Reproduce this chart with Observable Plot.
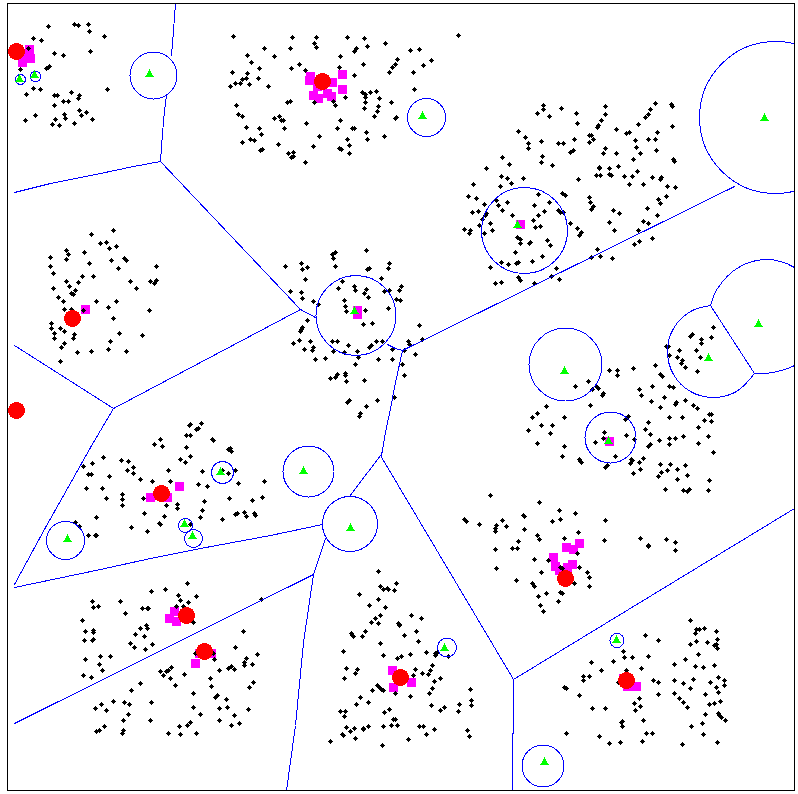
<!DOCTYPE html>
<html>
<head>
<meta charset="utf-8">
<style>html,body{margin:0;padding:0;background:#fff}svg{display:block}</style>
<script src="https://cdn.jsdelivr.net/npm/d3@7"></script>
<script src="https://cdn.jsdelivr.net/npm/@observablehq/plot@0.6"></script>
</head>
<body>
<div id="chart"></div>
<script>
const clusterNW = [[48,26],[74,24],[78,25],[88,24],[89,31],[104,36],[33,38],[41,40],[28,48],[54,53],[63,55],[90,51],[49,66],[48,67],[46,68],[20,69],[33,88],[40,89],[26,94],[71,92],[107,89],[54,95],[57,95],[79,95],[78,98],[63,101],[68,101],[54,105],[79,110],[86,112],[81,115],[64,114],[65,118],[35,115],[25,120],[55,119],[92,119],[52,124],[59,125],[74,123]];
const clusterN = [[233,36],[264,48],[247,55],[251,62],[259,68],[232,72],[247,73],[258,78],[242,79],[246,78],[235,83],[240,83],[230,86],[249,84],[268,86],[236,105],[238,114],[242,116],[246,127],[259,128],[261,134],[250,139],[254,140],[242,142],[260,150],[262,149],
[292,37],[316,37],[347,37],[364,38],[458,35],[314,43],[385,43],[316,47],[367,46],[290,48],[356,48],[354,51],[410,50],[419,49],[274,56],[340,56],[397,59],[431,60],[299,64],[363,64],[395,64],[423,65],[291,68],[339,67],[392,67],[305,70],[389,72],[413,72],[354,75],[414,89],[376,91],[362,92],[370,92],[365,94],[365,97],[379,98],[345,97],[287,102],[290,101],[314,102],[333,101],[365,102],[391,102],[335,105],[378,106],[364,108],[377,111],[374,116],[274,118],[279,116],[281,120],[283,120],[340,120],[395,118],[396,117],[306,123],[284,128],[337,128],[352,128],[354,128],[366,132],[319,136],[384,136],[347,139],[367,139],[278,144],[313,146],[349,145],[339,148],[341,149],[288,153],[293,152],[349,153],[293,156],[291,157],[305,162]];
const clusterW = [[113,230],[91,234],[100,243],[106,242],[116,246],[109,248],[66,250],[84,252],[68,254],[50,257],[66,259],[124,258],[126,260],[111,260],[89,263],[50,266],[118,268],[156,266],[53,273],[82,276],[93,276],[66,281],[78,282],[130,281],[150,281],[156,280],[154,283],[69,286],[53,288],[75,290],[136,288],[71,293],[73,294],[58,297],[63,301],[96,301],[116,301],[108,307],[64,309],[71,309],[83,310],[149,310],[113,318],[51,323],[51,328],[60,328],[64,331],[54,333],[74,334],[119,333],[142,335],[54,338],[73,338],[110,341],[64,343],[61,347],[108,349],[77,352],[91,351],[126,351],[60,361]];
const clusterSW = [[201,423],[190,424],[189,425],[198,428],[196,429],[186,435],[190,435],[160,439],[212,439],[213,440],[154,444],[162,446],[186,447],[228,449],[230,448],[231,451],[190,456],[103,457],[121,460],[128,461],[180,459],[185,462],[92,463],[83,466],[133,467],[127,470],[168,470],[202,471],[222,470],[235,470],[88,474],[91,474],[109,476],[133,473],[228,473],[140,479],[152,481],[170,481],[198,484],[207,486],[238,483],[264,481],[86,488],[102,488],[122,494],[106,498],[143,498],[122,499],[229,498],[262,497],[252,500],[204,501],[122,505],[166,505],[177,504],[177,508],[202,510],[144,513],[237,513],[235,514],[244,512],[246,516],[254,513],[255,515],[164,516],[200,517],[222,519],[96,517],[75,522],[79,526],[159,523],[160,524],[190,524],[131,527],[147,531],[88,535],[95,535],[96,535]];
const clusterS1 = [[187,583],[165,589],[151,591],[178,595],[196,596],[92,601],[120,601],[180,600],[188,602],[93,607],[98,606],[142,608],[147,608],[148,608],[176,606],[183,606],[125,613],[82,620],[193,622],[146,625],[140,628],[147,628],[85,631],[93,630],[93,632],[135,634],[144,636],[84,640],[92,640],[93,639],[130,643],[152,644],[134,647],[145,649],[261,599],
[100,656],[110,656],[85,659],[99,664],[102,670],[83,675],[91,677]];
const clusterS2 = [[243,631],[235,647],[257,654],[195,653],[213,653],[246,658],[214,659],[244,662],[244,665],[252,664],[171,667],[168,670],[166,671],[160,671],[163,675],[184,674],[170,678],[219,670],[228,668],[231,666],[234,669],[210,678],[253,682],[140,683],[175,685],[211,686],[249,687],[131,690],[193,693],[217,695],[215,697],[226,699],[113,701],[124,702],[129,704],[101,704],[151,702],[95,708],[106,710],[193,707],[219,708],[227,707],[248,709],[128,714],[200,714],[234,715],[123,720],[150,720],[219,720],[190,722],[187,725],[179,726],[231,725],[239,723],[104,726],[96,731],[99,730],[123,730],[122,733],[168,733],[180,734],[196,733]];
const clusterNE = [[537,113],[518,131],[525,137],[528,143],[528,148],[502,157],[509,164],[486,168],[501,176],[507,178],[523,178],[511,183],[473,184],[500,186],[538,194],[468,196],[476,198],[496,200],[507,202],[484,204],[498,205],[534,205],[502,210],[472,212],[478,211],[486,213],[485,215],[512,215],[538,215],[533,220],[482,219],[490,223],[479,225],[535,227],[464,229],[470,230],[469,233],[492,230],[484,233],[517,237],[520,239],[520,243],[530,242],[529,243],[515,252],[501,262],[508,264],[516,263],[518,262],[532,261],[490,267],[495,283],[501,282],[518,277],[520,280],[534,283],
[543,105],[543,109],[561,108],[549,116],[576,113],[605,106],[605,114],[655,103],[671,104],[672,106],[650,109],[648,114],[645,117],[601,120],[577,123],[638,124],[598,125],[597,127],[672,126],[616,129],[629,132],[626,133],[657,132],[589,135],[591,135],[574,139],[593,139],[635,140],[648,139],[655,139],[541,141],[558,143],[563,143],[589,142],[636,147],[605,148],[573,150],[570,152],[656,150],[603,153],[616,153],[640,153],[542,156],[633,159],[673,159],[674,161],[541,162],[552,165],[618,166],[599,167],[599,168],[609,168],[637,171],[596,175],[600,175],[609,174],[611,175],[624,176],[632,176],[652,177],[661,177],[660,179],[578,179],[629,184],[643,184],[667,186],[675,187],[562,193],[565,195],[589,197],[666,196],[658,199],[590,202],[660,203],[549,202],[593,206],[591,209],[647,208],[613,210],[558,210],[560,212],[563,212],[544,211],[619,213],[657,215],[643,221],[609,222],[648,223],[570,223],[540,226],[577,228],[614,230],[638,230],[581,232],[579,235],[652,238],[547,240],[639,241],[634,244],[550,245],[597,249],[542,256],[591,257],[600,256],[612,258],[556,268],[551,276],[559,279]];
const clusterC = [[366,250],[335,252],[332,254],[333,258],[301,263],[389,263],[285,266],[307,267],[302,269],[335,266],[369,268],[367,269],[388,268],[305,279],[381,278],[342,281],[354,286],[338,288],[355,290],[366,289],[401,286],[389,290],[399,290],[384,291],[290,291],[301,292],[364,293],[368,297],[302,298],[396,299],[400,300],[344,300],[313,301],[318,304],[345,306],[388,308],[365,310],[346,311],[307,320],[363,324],[372,323],[419,325],[302,327],[301,329],[300,331],[422,339],[299,340],[293,343],[310,341],[332,341],[337,341],[376,341],[382,341],[408,341],[409,344],[348,345],[371,345],[369,347],[313,347],[304,349],[312,350],[333,351],[344,352],[357,351],[392,349],[404,350],[415,354],[358,357],[315,359],[325,358],[378,359],[392,359],[355,364],[402,364],[404,375],[345,373],[345,375],[337,374],[335,377],[330,378],[364,380],[346,381],[394,397],[377,400],[349,400],[347,402],[366,406],[360,413],[359,416]];
const clusterE = [[532,417],[537,413],[528,430],[537,443],[490,495],[539,502],[523,515],[524,516],[464,519],[466,521],[479,524],[502,520],[496,525],[506,526],[495,528],[495,531],[524,529],
[713,327],[692,334],[690,336],[711,337],[701,339],[701,343],[666,346],[668,346],[679,350],[696,350],[669,355],[677,357],[700,357],[682,360],[681,363],[685,367],[697,371],[655,365],[633,368],[609,370],[617,370],[617,375],[660,374],[662,376],[588,381],[575,386],[596,386],[598,388],[592,389],[652,386],[669,386],[673,387],[639,389],[603,393],[602,395],[641,395],[664,397],[651,401],[685,400],[676,402],[675,404],[546,406],[590,405],[660,407],[693,405],[697,408],[709,414],[711,414],[564,417],[628,416],[625,419],[669,417],[682,417],[704,420],[711,421],[648,422],[541,425],[552,425],[698,427],[645,429],[550,433],[604,432],[650,434],[626,435],[683,436],[708,436],[603,438],[634,439],[669,438],[675,438],[659,440],[595,442],[669,444],[698,443],[650,444],[648,446],[564,446],[713,452],[562,456],[615,456],[643,458],[579,459],[580,461],[581,462],[631,459],[632,460],[630,463],[639,462],[607,465],[606,466],[605,467],[660,464],[670,464],[685,465],[640,469],[677,469],[661,472],[667,470],[633,473],[687,475],[658,476],[677,479],[709,480],[665,489],[683,490],[687,491],[689,489],[708,490],[559,510],[575,513],[552,521],[560,519],[605,520],[578,532]];
const clusterSC = [[537,535],[518,541],[495,549],[512,548],[517,548],[534,559],[496,568],[516,580],[532,583],[534,586],[538,596],[540,605],[539,539],[564,538],[604,540],[640,538],[666,539],[675,542],[648,545],[648,546],[675,550],[577,553],[548,560],[579,567],[560,567],[562,568],[541,572],[587,572],[589,577],[574,583],[589,586],[560,592],[562,593],[546,593],[558,601],[543,611]];
const clusterS3 = [[378,571],[396,583],[380,586],[383,589],[387,588],[388,589],[394,590],[359,594],[378,599],[369,605],[385,607],[380,615],[411,615],[375,618],[421,618],[371,622],[378,623],[398,623],[399,624],[399,625],[365,631],[416,631],[351,633],[352,635],[353,636],[362,636],[404,635],[418,641],[380,643],[343,651],[426,652],[437,652],[435,653],[435,655],[410,654],[383,655],[401,656],[397,658],[448,656],[432,665],[346,668],[357,669],[355,673],[430,670],[415,669],[428,674],[422,673],[413,675],[344,678],[440,678],[434,681],[377,685],[379,687],[381,689],[383,690],[372,690],[432,688],[470,689],[429,693],[395,693],[410,696],[360,697],[471,700],[368,702],[356,704],[431,705],[459,704],[471,705],[444,707],[440,710],[458,711],[389,709],[384,712],[340,711],[345,711],[344,716],[393,719],[395,719],[391,725],[397,725],[383,726],[368,726],[419,726],[423,726],[346,727],[354,728],[363,728],[363,729],[434,729],[467,730],[350,731],[342,734],[343,735],[426,734],[469,736],[355,738],[408,739],[330,741],[382,745]];
const clusterSE = [[690,620],[696,629],[699,629],[704,628],[695,633],[716,631],[645,635],[717,639],[658,640],[696,641],[707,642],[690,644],[716,644],[714,645],[717,648],[623,651],[698,654],[624,657],[632,657],[648,656],[685,659],[591,662],[613,661],[674,664],[714,665],[695,666],[703,667],[641,668],[601,670],[626,670],[589,676],[583,676],[583,680],[718,677],[653,680],[658,682],[674,680],[693,679],[710,682],[724,680],[724,685],[683,683],[618,682],[564,687],[566,688],[690,688],[716,687],[718,692],[579,695],[658,694],[674,693],[705,694],[679,698],[639,698],[683,702],[720,701],[634,703],[709,704],[714,703],[687,707],[640,706],[592,708],[605,708],[635,710],[705,714],[718,713],[719,715],[721,717],[725,720],[643,720],[622,721],[621,722],[702,723],[622,726],[691,726],[566,733],[646,733],[652,733],[703,734],[599,736],[642,741],[609,743],[620,742],[717,742],[682,744]];
const blackPoints = [...clusterNW,...clusterN,...clusterW,...clusterSW,...clusterS1,...clusterS2,...clusterNE,...clusterC,...clusterE,...clusterSC,...clusterS3,...clusterSE];

const magentaSquares = [[29,49],[30,58],[22,62],[26,58],[310,76],[309,80],[332,82],[342,74],[342,89],[313,95],[318,98],[327,93],[331,96],[317,86],[520,224],[85,309],[179,486],[150,497],[167,497],[357,310],[357,314],[609,441],[174,611],[169,618],[176,621],[195,663],[199,653],[211,653],[392,670],[411,682],[393,687],[579,543],[566,547],[573,549],[553,557],[555,566],[572,564],[567,567],[559,570],[636,686],[627,686],[623,678]];
const redCircles = [[16,51],[322,81],[72,318],[16,410],[161,493],[186,615],[204,651],[400,677],[565,578],[626,680]];
const greenTriangles = [[149,74],[19,79],[34,75],[422,116],[517,225],[764,118],[220,472],[184,524],[354,311],[303,471],[350,528],[564,371],[708,358],[758,324],[608,441],[67,539],[192,536],[444,648],[616,640],[544,762]];
const rings = [[153,75,23.5],[20,79,5],[35,76,5.3],[426,117,19],[524,230,43],[775,117,76],[355.5,315,40],[349.5,523.5,27.5],[308,471,25.5],[565,364,36.5],[610,437,25.5],[222,472,11],[185,525,7],[193,538,9],[65,540,19],[446.5,647,9.5],[616.5,640,7],[542.5,765.5,21]];
const edges = [
  [[175,3],[173,30],[171,55]],
  [[166,95],[164,110],[162,133],[160,161]],
  [[14,192],[50,183],[100,173],[133,166],[160,161]],
  [[160,161],[300,309]],
  [[300,309],[315,317]],
  [[300,309],[113,408]],
  [[14,345],[113,408]],
  [[113,408],[90,447],[67,488],[45,527],[14,584]],
  [[14,587],[100,569],[150,558],[200,548],[270,535],[322,524]],
  [[14,723],[313,574]],
  [[325,538],[313,574],[303,642],[295,725],[286,790]],
  [[349,496],[380,455]],
  [[381,455],[385,432],[390,408],[395,382],[402,350]],
  [[402,350],[734,186]],
  [[387,344],[395,348],[402,350]],
  [[380,455],[513,679]],
  [[513,679],[512,790]],
  [[513,679],[794,508]],
  [[710,305],[754,373]]
];
const arcs = [
  [[710,305],[690,311],[673,328],[667,351],[673,374],[690,391],[713,397],[736,391],[754,373]],
  [[710,305],[717,288],[738,267],[766,259],[794,267],[815,288],[823,316],[815,345],[794,365],[766,373],[754,373]]
];

const toRows = list => list.flatMap((pts, i) => pts.map(p => ({x: p[0], y: p[1], id: i})));
const px = d => d[0], py = d => d[1];
const crisp = {shapeRendering: "crispEdges"};

const chart = Plot.plot({
  width: 798, height: 794,
  marginLeft: 7, marginRight: 4, marginTop: 3, marginBottom: 4,
  x: {domain: [7, 794], axis: null},
  y: {domain: [3, 790], reverse: true, axis: null},
  r: {type: "identity"},
  style: {background: "#fff"},
  marks: [
    Plot.dot(magentaSquares, {x: px, y: py, symbol: "square", r: 4.6, fill: "#ff00ff", ...crisp}),
    Plot.dot(blackPoints, {x: px, y: py, symbol: "diamond2", r: 2.5, fill: "#000", ...crisp}),
    Plot.line(toRows(edges), {x: "x", y: "y", z: "id", stroke: "#0000ff", strokeWidth: 1, clip: "frame", ...crisp}),
    Plot.line(toRows(arcs), {x: "x", y: "y", z: "id", curve: "catmull-rom", stroke: "#0000ff", strokeWidth: 1, clip: "frame", ...crisp}),
    Plot.dot(rings, {x: px, y: py, r: d => d[2], fill: "none", stroke: "#0000ff", strokeWidth: 1, clip: "frame", ...crisp}),
    Plot.dot(redCircles, {x: px, y: py, r: 8.5, fill: "#ff0000", ...crisp}),
    Plot.dot(greenTriangles, {x: px, y: py, symbol: "triangle", r: 3.3, fill: "#00ff00", ...crisp}),
    Plot.frame({stroke: "#000", strokeWidth: 1, ...crisp})
  ]
});
document.getElementById("chart").append(chart);
</script>
</body>
</html>
